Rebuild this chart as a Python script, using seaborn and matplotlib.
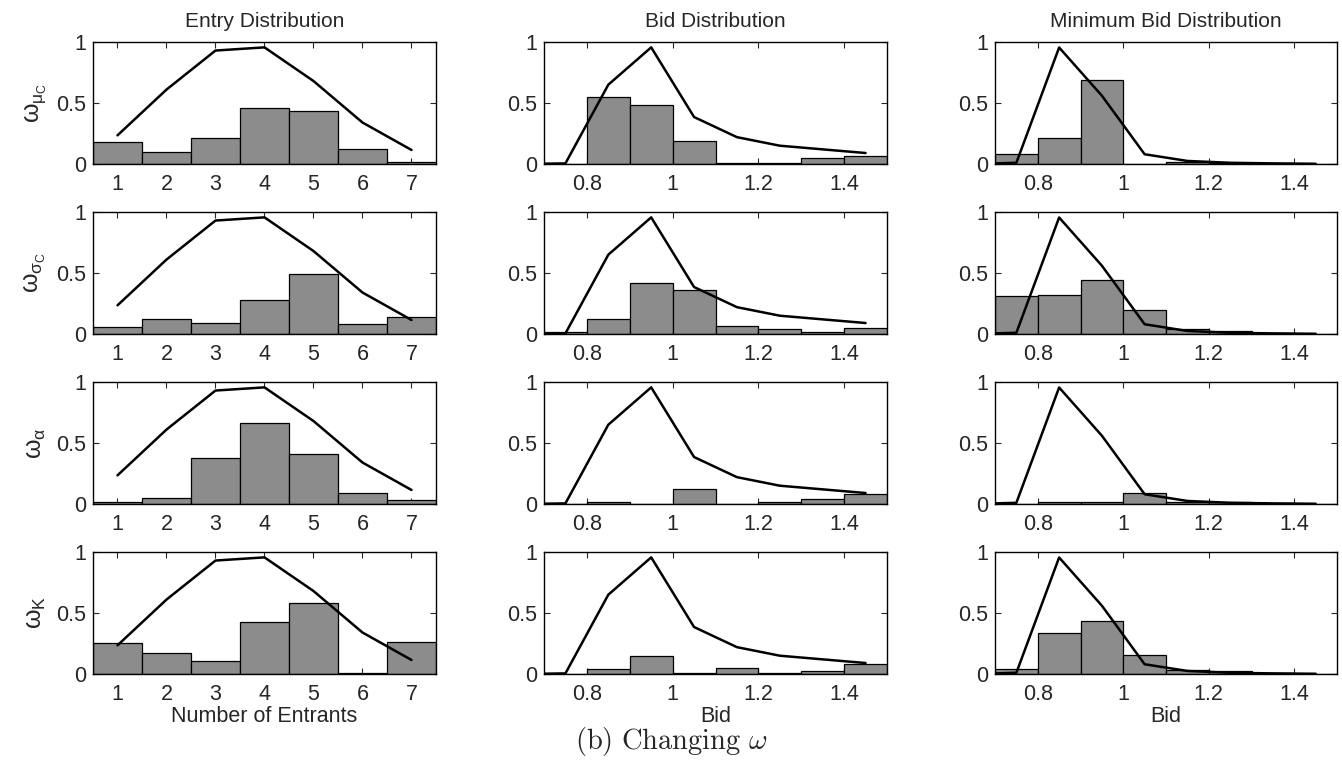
import numpy as np
import pandas as pd
import matplotlib
matplotlib.use("Agg")
import matplotlib.pyplot as plt
import seaborn as sns

# ---------------- data ----------------
entrants = [1, 2, 3, 4, 5, 6, 7]
bid_centers = [0.75, 0.85, 0.95, 1.05, 1.15, 1.25, 1.35, 1.45]
bid_line_x = [0.65, 0.75, 0.85, 0.95, 1.05, 1.15, 1.25, 1.35, 1.45]

entry_line = [0.235, 0.61, 0.93, 0.956, 0.68, 0.34, 0.115]
bid_line = [0.0, 0.005, 0.65, 0.956, 0.385, 0.22, 0.15, 0.12, 0.09]
minbid_line = [0.0, 0.01, 0.955, 0.56, 0.08, 0.025, 0.01, 0.005, 0.002]

row_labels = [r"$\omega_{\mu_C}$", r"$\omega_{\sigma_C}$", r"$\omega_{\alpha}$", r"$\omega_{K}$"]
col_titles = ["Entry Distribution", "Bid Distribution", "Minimum Bid Distribution"]
col_xlabels = ["Number of Entrants", "Bid", "Bid"]

entry_mu_c = [0.18, 0.10, 0.21, 0.456, 0.434, 0.12, 0.015]
entry_sigma_c = [0.057, 0.123, 0.093, 0.28, 0.495, 0.08, 0.137]
entry_alpha = [0.014, 0.052, 0.377, 0.66, 0.407, 0.09, 0.03]
entry_k = [0.254, 0.17, 0.11, 0.43, 0.58, 0.008, 0.265]

bid_mu_c = [0.0, 0.55, 0.48, 0.19, 0.008, 0.008, 0.052, 0.066]
bid_sigma_c = [0.02, 0.12, 0.42, 0.36, 0.065, 0.038, 0.02, 0.052]
bid_alpha = [0.0, 0.02, 0.003, 0.12, 0.0, 0.02, 0.04, 0.08]
bid_k = [0.0, 0.045, 0.15, 0.01, 0.05, 0.01, 0.025, 0.085]

minbid_mu_c = [0.085, 0.215, 0.69, 0.0, 0.015, 0.008, 0.01, 0.003]
minbid_sigma_c = [0.31, 0.32, 0.44, 0.2, 0.045, 0.025, 0.01, 0.003]
minbid_alpha = [0.0, 0.015, 0.015, 0.09, 0.02, 0.015, 0.005, 0.002]
minbid_k = [0.04, 0.34, 0.435, 0.155, 0.035, 0.025, 0.008, 0.003]

entry_rows = [entry_mu_c, entry_sigma_c, entry_alpha, entry_k]
bid_rows = [bid_mu_c, bid_sigma_c, bid_alpha, bid_k]
minbid_rows = [minbid_mu_c, minbid_sigma_c, minbid_alpha, minbid_k]

# ---------------- style ----------------
sns.set_style("ticks")
plt.rcParams["font.family"] = ["Liberation Sans", "DejaVu Sans"]
plt.rcParams["mathtext.fontset"] = "custom"
plt.rcParams["mathtext.rm"] = "Liberation Sans"
plt.rcParams["mathtext.it"] = "Liberation Sans"
plt.rcParams["mathtext.bf"] = "Liberation Sans:bold"
plt.rcParams["xtick.direction"] = "in"
plt.rcParams["ytick.direction"] = "in"
plt.rcParams["axes.linewidth"] = 1.0

BAR = "#8c8c8c"
W, H = 1342, 778
fig = plt.figure(figsize=(W / 100, H / 100), dpi=100)

lefts = [93, 544, 995]
widths = [343, 343, 342]
tops = [42, 212, 382, 552]
ah = 122

for r in range(4):
    for c in range(3):
        ax = fig.add_axes([lefts[c] / W, 1 - (tops[r] + ah) / H, widths[c] / W, ah / H])
        if c == 0:
            df = pd.DataFrame({"x": entrants, "w": entry_rows[r]})
            sns.histplot(data=df, x="x", weights="w", bins=7, binrange=(0.5, 7.5), ax=ax,
                         color=BAR, edgecolor="black", linewidth=0.9, alpha=1.0)
            ldf = pd.DataFrame({"x": entrants, "y": entry_line})
            sns.lineplot(data=ldf, x="x", y="y", ax=ax, color="black", linewidth=1.8)
            ax.set_xlim(0.5, 7.5)
            ax.set_xticks(entrants)
            ax.set_xticklabels([str(v) for v in entrants])
        else:
            vals = bid_rows[r] if c == 1 else minbid_rows[r]
            line = bid_line if c == 1 else minbid_line
            df = pd.DataFrame({"x": bid_centers, "w": vals})
            sns.histplot(data=df, x="x", weights="w", bins=8, binrange=(0.7, 1.5), ax=ax,
                         color=BAR, edgecolor="black", linewidth=0.9, alpha=1.0)
            ldf = pd.DataFrame({"x": bid_line_x, "y": line})
            sns.lineplot(data=ldf, x="x", y="y", ax=ax, color="black", linewidth=1.8)
            ax.set_xlim(0.7, 1.5)
            ax.set_xticks([0.8, 1.0, 1.2, 1.4])
            ax.set_xticklabels(["0.8", "1", "1.2", "1.4"])
        ax.set_ylim(0, 1)
        ax.set_yticks([0, 0.5, 1])
        ax.set_yticklabels(["0", "0.5", "1"])
        ax.tick_params(axis="both", which="both", labelsize=15.5, top=True, right=True,
                       length=4, width=0.8)
        ax.tick_params(axis="x", pad=7)
        ax.tick_params(axis="y", pad=5)
        for s in ax.spines.values():
            s.set_visible(True)
            s.set_color("black")
        ax.set_xlabel("")
        ax.set_ylabel("")
        if c == 0:
            ax.set_ylabel(row_labels[r], fontsize=18, labelpad=6)
        if r == 0:
            ax.set_title(col_titles[c], fontsize=15, pad=11)
        if r == 3:
            ax.set_xlabel(col_xlabels[c], fontsize=15.5, labelpad=1)

fig.text(0.5, 1 - 741 / H, r"$\mathrm{(b)\ Changing}\ \omega$", ha="center", va="center",
         fontsize=20.5, math_fontfamily="cm")

fig.savefig("out.png", dpi=100)
